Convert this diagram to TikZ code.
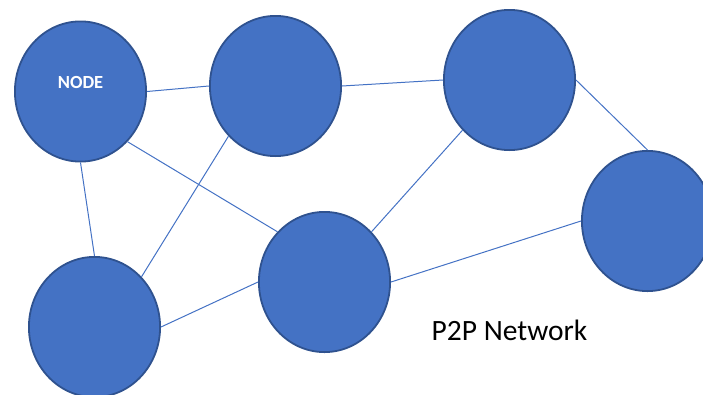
\documentclass[tikz,border=0pt]{standalone}
\usepackage{fontspec}
\setmainfont{Carlito}
\usepackage{xcolor}
\definecolor{officeBlue}{HTML}{4472C4}
\definecolor{officeDarkBlue}{HTML}{2F528F}
\colorlet{colorPeer}{officeBlue}
\colorlet{colorPeerBorder}{officeDarkBlue}
\colorlet{colorLink}{officeBlue}
\usetikzlibrary{shapes.geometric, positioning}
\tikzset{peer/.style={ellipse, draw=colorPeerBorder, fill=colorPeer, line width=1.8pt, minimum width=131.2pt, minimum height=140.2pt, inner sep=0pt}}
\tikzset{peerlabel/.style={text=white, font=\fontsize{18.5}{20}\selectfont\bfseries, inner sep=0pt}}

\begin{document}
\begin{tikzpicture}[x=1pt, y=-1pt, link/.style={colorLink, line width=1pt}]
\useasboundingbox (0,0) rectangle (703,394);
\node[peer, label={[peerlabel, yshift=9.5pt]center:NODE}] (a) at (80.5,91.5) {};
\node[peer, right=62pt of a, yshift=5.5pt] (b) {};
\node[peer, right=101pt of b, yshift=6pt] (c) {};
\node[peer, below=93.5pt of a, xshift=14pt] (f) {};
\node[peer, right=97pt of f, yshift=45pt] (e) {};
\node[peer, right=190pt of e, yshift=61pt] (d) {};
\node[font=\fontsize{29.5}{32}\selectfont, anchor=base west, inner sep=0pt] (title) at (431.5,340) {P2P Network};
\draw [link] (a.east) -- (b.west);
\draw [link] (b.east) -- (c.west);
\draw [link] (c.east) -- (d.north);
\draw [link] (a.south) -- (f.north);
\draw [link] (a.south east) -- (e.north west);
\draw [link] (b.south west) -- (f.north east);
\draw [link] (f.east) -- (e.west);
\draw [link] (e.north east) -- (c.south west);
\draw [link] (e.east) -- (d.west);
\end{tikzpicture}
\end{document}
